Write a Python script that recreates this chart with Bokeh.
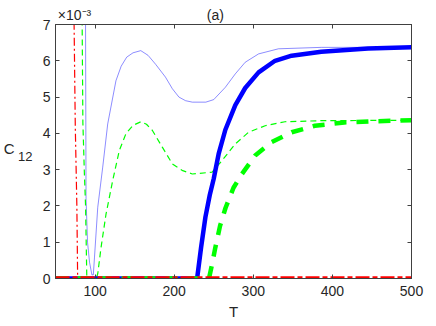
from bokeh.plotting import figure
from bokeh.models import Range1d, FixedTicker, LinearAxis
from bokeh.embed import file_html
from bokeh.resources import INLINE

# ---- data (C12 in units of 1e-3) ----
x_ticks = [100, 200, 300, 400, 500]
y_ticks = [0, 1, 2, 3, 4, 5, 6, 7]

T_blue_thin = [50, 88.0, 88.6, 90.5, 93, 96, 97.8, 99.3, 103.4, 109.7, 116, 126.4, 133, 140, 148,
               157.8, 167, 176.7, 189, 197.7, 206, 214.4, 223, 240, 250, 264.7, 277.3, 289.8,
               306.7, 331.8, 386, 500]
C_blue_thin = [30, 7.0, 2.2, 1.0, 0.45, 0.1, 0.1, 0.59, 1.96, 3.07, 4.26, 5.45, 5.85, 6.1, 6.22,
               6.28, 6.15, 5.9, 5.55, 5.23, 5.0, 4.9, 4.86, 4.86, 4.93, 5.27, 5.64, 5.96,
               6.19, 6.33, 6.37, 6.37]

T_green_thin = [50, 83.7, 84.6, 86.5, 88, 89.6, 101.5, 103.4, 107.6, 113.9, 122.3, 130.7, 139, 148,
                157.8, 165, 172.5, 185, 197.7, 210, 223, 248, 260.5, 277.3, 294, 315, 340, 386, 500]
C_green_thin = [30, 7.0, 4.3, 2.9, 2.0, 0.0, 0.0, 0.13, 0.86, 1.78, 2.7, 3.53, 3.99, 4.22,
                4.32, 4.25, 4.08, 3.62, 3.16, 2.98, 2.88, 2.93, 3.25, 3.71, 4.03, 4.21, 4.32, 4.35, 4.36]

T_red_thin = [50, 73.5, 75.0, 77.0, 78.0, 500]
C_red_thin = [30, 7.0, 4.2, 2.0, 0.0, 0.0]

T_blue_thick = [50, 229, 234, 239.5, 245, 250, 256.4, 264.7, 277.3, 289.8, 306.7, 327.5, 348.5, 386, 445, 500]
C_blue_thick = [0, 0, 0.85, 1.69, 2.3, 2.75, 3.45, 4.1, 4.78, 5.25, 5.68, 6.0, 6.14, 6.25, 6.34, 6.37]

T_green_thick = [50, 244, 248, 252, 258, 265, 275, 285.7, 302.4, 323.4, 348.5, 377.8, 415, 447, 500]
C_green_thick = [0, 0, 0.4, 0.85, 1.45, 1.95, 2.5, 2.88, 3.39, 3.76, 4.03, 4.21, 4.3, 4.33, 4.36]

T_red_thick = [50, 500]
C_red_thick = [0, 0]

# text annotations (position, text)
top_text_pos = [74.0, 252.0]
top_text = ["\u00d710\u207b\u00b3", "(a)"]
ylab_c_pos = 3.58
ylab_sub_pos = 3.36

FONT = "Liberation Sans"
AX = "#404040"
TXT = "#262626"

p = figure(width=428, height=324, x_range=Range1d(50, 500), y_range=Range1d(0, 7),
           output_backend="svg", toolbar_location=None,
           min_border_left=52, min_border_right=17, min_border_top=24, min_border_bottom=46)
p.xgrid.visible = False
p.ygrid.visible = False
p.outline_line_color = AX
p.background_fill_color = "white"
p.border_fill_color = "white"

def style(ax, ticks, show_labels):
    ax.ticker = FixedTicker(ticks=ticks)
    ax.axis_line_color = AX
    ax.major_tick_line_color = AX
    ax.major_tick_in = 4
    ax.major_tick_out = 0
    ax.minor_tick_line_color = None
    ax.minor_tick_in = 0
    ax.minor_tick_out = 0
    ax.major_label_text_font = FONT
    ax.major_label_text_color = TXT
    if show_labels:
        ax.major_label_text_font_size = "14px"
    else:
        ax.major_label_text_font_size = "0px"
        ax.major_label_text_color = None
        ax.major_label_standoff = 0

def text_axis(ticks, labels, size, standoff):
    ax = LinearAxis()
    ax.ticker = FixedTicker(ticks=ticks)
    ax.major_label_overrides = dict(zip(ticks, labels))
    ax.axis_line_color = None
    ax.major_tick_line_color = None
    ax.minor_tick_line_color = None
    ax.major_tick_in = 0
    ax.major_tick_out = 0
    ax.minor_tick_in = 0
    ax.minor_tick_out = 0
    ax.major_label_text_font = FONT
    ax.major_label_text_color = TXT
    ax.major_label_text_font_size = size
    ax.major_label_standoff = standoff
    return ax

style(p.xaxis[0], x_ticks, True)
p.xaxis[0].major_label_standoff = 7
p.xaxis[0].axis_label = "T"
p.xaxis[0].axis_label_text_font = FONT
p.xaxis[0].axis_label_text_font_style = "normal"
p.xaxis[0].axis_label_text_font_size = "15px"
p.xaxis[0].axis_label_text_color = TXT
p.xaxis[0].axis_label_standoff = 4
style(p.yaxis[0], y_ticks, True)
p.yaxis[0].major_label_standoff = 5

top = LinearAxis()
style(top, x_ticks, False)
p.add_layout(top, "above")
right = LinearAxis()
style(right, y_ticks, False)
p.add_layout(right, "right")

# texts above the frame and the y label, as tick labels of bare axes
p.add_layout(text_axis(top_text_pos, top_text, "14px", 2), "above")
p.add_layout(text_axis([ylab_sub_pos], ["12"], "13px", 7), "left")
p.add_layout(text_axis([ylab_c_pos], ["C"], "15px", 1), "left")

# thin curves
p.line(T_blue_thin, C_blue_thin, line_color="#0000ff", line_alpha=0.45, line_width=1)
p.line(T_green_thin, C_green_thin, line_color="#00ff00", line_width=1.2, line_dash="6 4")
p.line(T_red_thin, C_red_thin, line_color="#ff0000", line_width=1.2, line_dash="8 3 2 3")
# thick curves
p.line(T_blue_thick, C_blue_thick, line_color="#0000ff", line_width=4.5)
p.line(T_green_thick, C_green_thick, line_color="#00ff00", line_width=4.5, line_dash="12 10")
p.line(T_red_thick, C_red_thick, line_color="#ff0000", line_width=4.5, line_dash="14 3 5 3")

open("out.html", "w").write(file_html(p, INLINE))
